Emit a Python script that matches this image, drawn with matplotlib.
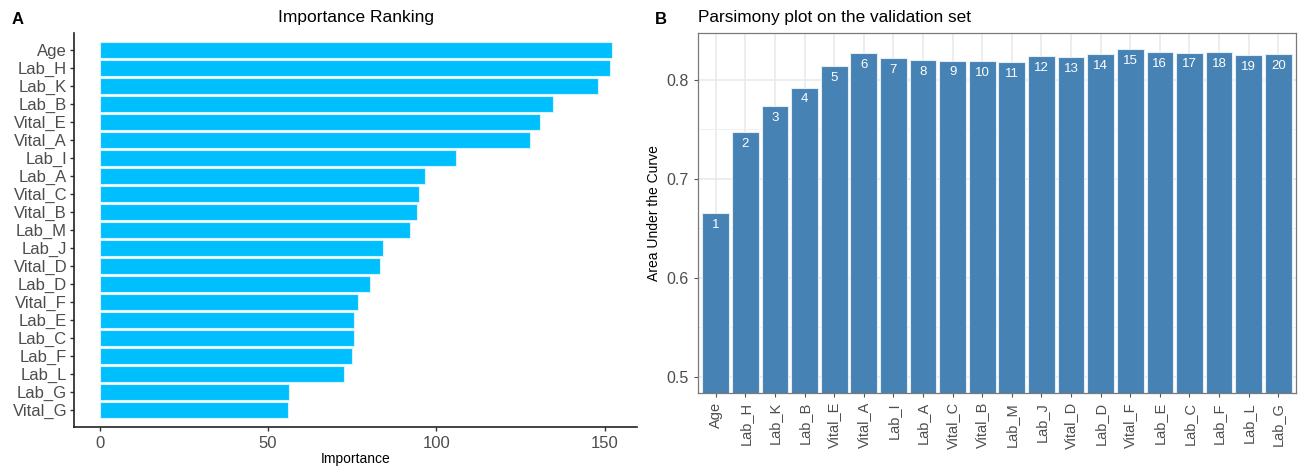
import numpy as np
import matplotlib
matplotlib.use('Agg')
import matplotlib.pyplot as plt
from matplotlib.ticker import MultipleLocator, FormatStrFormatter

plt.rcParams['font.family'] = ['Liberation Sans', 'DejaVu Sans']

# Panel A data (top to bottom)
features = ['Age', 'Lab_H', 'Lab_K', 'Lab_B', 'Vital_E', 'Vital_A', 'Lab_I', 'Lab_A',
            'Vital_C', 'Vital_B', 'Lab_M', 'Lab_J', 'Vital_D', 'Lab_D', 'Vital_F',
            'Lab_E', 'Lab_C', 'Lab_F', 'Lab_L', 'Lab_G', 'Vital_G']
importance = [152.1, 151.5, 147.9, 134.6, 130.7, 127.9, 105.9, 96.5, 94.8, 94.2,
              92.2, 84.2, 83.4, 80.2, 76.8, 75.6, 75.5, 75.0, 72.5, 56.2, 55.9]

# Panel B data
pars_labels = ['Age', 'Lab_H', 'Lab_K', 'Lab_B', 'Vital_E', 'Vital_A', 'Lab_I', 'Lab_A',
               'Vital_C', 'Vital_B', 'Lab_M', 'Lab_J', 'Vital_D', 'Lab_D', 'Vital_F',
               'Lab_E', 'Lab_C', 'Lab_F', 'Lab_L', 'Lab_G']
auc = [0.6648, 0.7467, 0.7731, 0.7919, 0.8137, 0.8268, 0.8217, 0.8197, 0.8191, 0.8184,
       0.8177, 0.8238, 0.8224, 0.8258, 0.8305, 0.8278, 0.8272, 0.8275, 0.8244, 0.8258]

W, H = 1299, 469
fig = plt.figure(figsize=(W / 100, H / 100), dpi=100)

def box(l, t, r, b):
    return [l / W, 1 - b / H, (r - l) / W, (b - t) / H]

# ---- Panel A
axA = fig.add_axes(box(74, 33, 637, 427))
n = len(features)
ypos = np.arange(n, 0, -1)
axA.barh(ypos, importance, height=0.9, color='#00BFFF', edgecolor='#d8f2fb', linewidth=0.8)
axA.set_ylim(0.05, n + 0.95)
axA.set_xlim(-7.6, 159.6)
axA.set_yticks(ypos)
axA.set_yticklabels(features)
axA.set_xticks([0, 50, 100, 150])
for s in ['top', 'right']:
    axA.spines[s].set_visible(False)
for s in ['left', 'bottom']:
    axA.spines[s].set_color('#222222')
    axA.spines[s].set_linewidth(1.2)
axA.tick_params(axis='both', colors='#333333', labelcolor='#4d4d4d', labelsize=12,
                length=3, width=1)
axA.tick_params(axis='y', pad=2)
axA.set_xlabel('Importance', fontsize=10, labelpad=1)
axA.set_title('Importance Ranking', fontsize=12.5, pad=8)
fig.text(12 / W, 1 - 20 / H, 'A', fontsize=12, fontweight='bold', va='center', ha='left')

# ---- Panel B
axB = fig.add_axes(box(698, 33, 1296, 393))
x = np.arange(1, len(auc) + 1)
axB.bar(x, auc, width=0.9, color='#4682B4', edgecolor='#e6eef5', linewidth=0.8, zorder=2)
axB.set_ylim(0.4835, 0.847)
axB.set_xlim(0.4, len(auc) + 0.6)
axB.set_xticks(x)
axB.set_xticklabels(pars_labels, rotation=90)
axB.yaxis.set_major_locator(MultipleLocator(0.1))
axB.yaxis.set_minor_locator(MultipleLocator(0.05))
axB.yaxis.set_major_formatter(FormatStrFormatter('%.1f'))
axB.grid(which='major', color='#e8e8e8', linewidth=1.1, zorder=0)
axB.grid(which='minor', axis='y', color='#f0f0f0', linewidth=0.7, zorder=0)
axB.set_axisbelow(True)
axB.tick_params(axis='both', colors='#555555', labelcolor='#4d4d4d', labelsize=10.5,
                length=3, width=0.8)
axB.tick_params(axis='y', labelsize=11.5)
axB.tick_params(axis='y', which='minor', length=0)
for s in axB.spines.values():
    s.set_color('#7a7a7a')
    s.set_linewidth(0.9)
for xi, v in zip(x, auc):
    axB.annotate(str(xi), (xi, v), xytext=(0, -8.5), textcoords='offset points',
                 ha='center', va='center', color='white', fontsize=9.5)
axB.set_ylabel('Area Under the Curve', fontsize=10, labelpad=4)
axB.set_title('Parsimony plot on the validation set', fontsize=12.4, loc='left', pad=8)
fig.text(655 / W, 1 - 20 / H, 'B', fontsize=12, fontweight='bold', va='center', ha='left')

fig.savefig('out.png', dpi=100)
